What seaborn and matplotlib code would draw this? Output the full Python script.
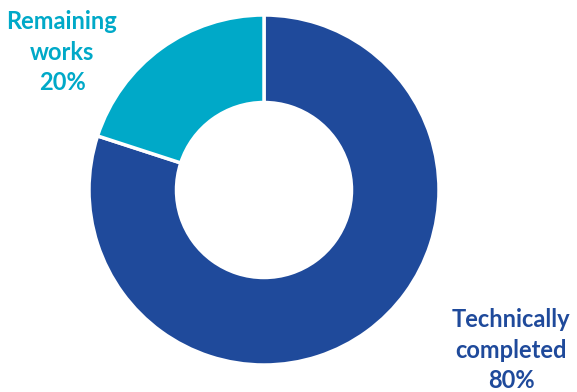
import matplotlib
matplotlib.use("Agg")
import matplotlib.pyplot as plt
import seaborn as sns

categories = ["Technically\ncompleted", "Remaining\nworks"]
values = [80, 20]
colors = ["#1F4A9B", "#00A9C8"]

sns.set_theme(style="white")
plt.rcParams['font.family'] = ['Lato', 'DejaVu Sans']

W, H = 577, 392
fig = plt.figure(figsize=(W / 100, H / 100), dpi=100)
cx, cy, r = 264, 190, 175
ax = fig.add_axes([(cx - r) / W, (H - cy - r) / H, 2 * r / W, 2 * r / H])
ax.pie(values, colors=colors, startangle=90, counterclock=False, radius=1,
       wedgeprops=dict(width=0.5, edgecolor="white", linewidth=2.5))
ax.set_xlim(-1.0, 1.0)
ax.set_ylim(-1.0, 1.0)
ax.set_aspect("equal")
ax.axis("off")

pos = [(511, 350), (62, 52)]
for cat, val, col, (px, py) in zip(categories, values, colors, pos):
    fig.text(px / W, 1 - py / H, f"{cat}\n{val}%", color=col, fontsize=17,
             fontweight="bold", ha="center", va="center", linespacing=1.4)

fig.savefig("out.png", dpi=100)
